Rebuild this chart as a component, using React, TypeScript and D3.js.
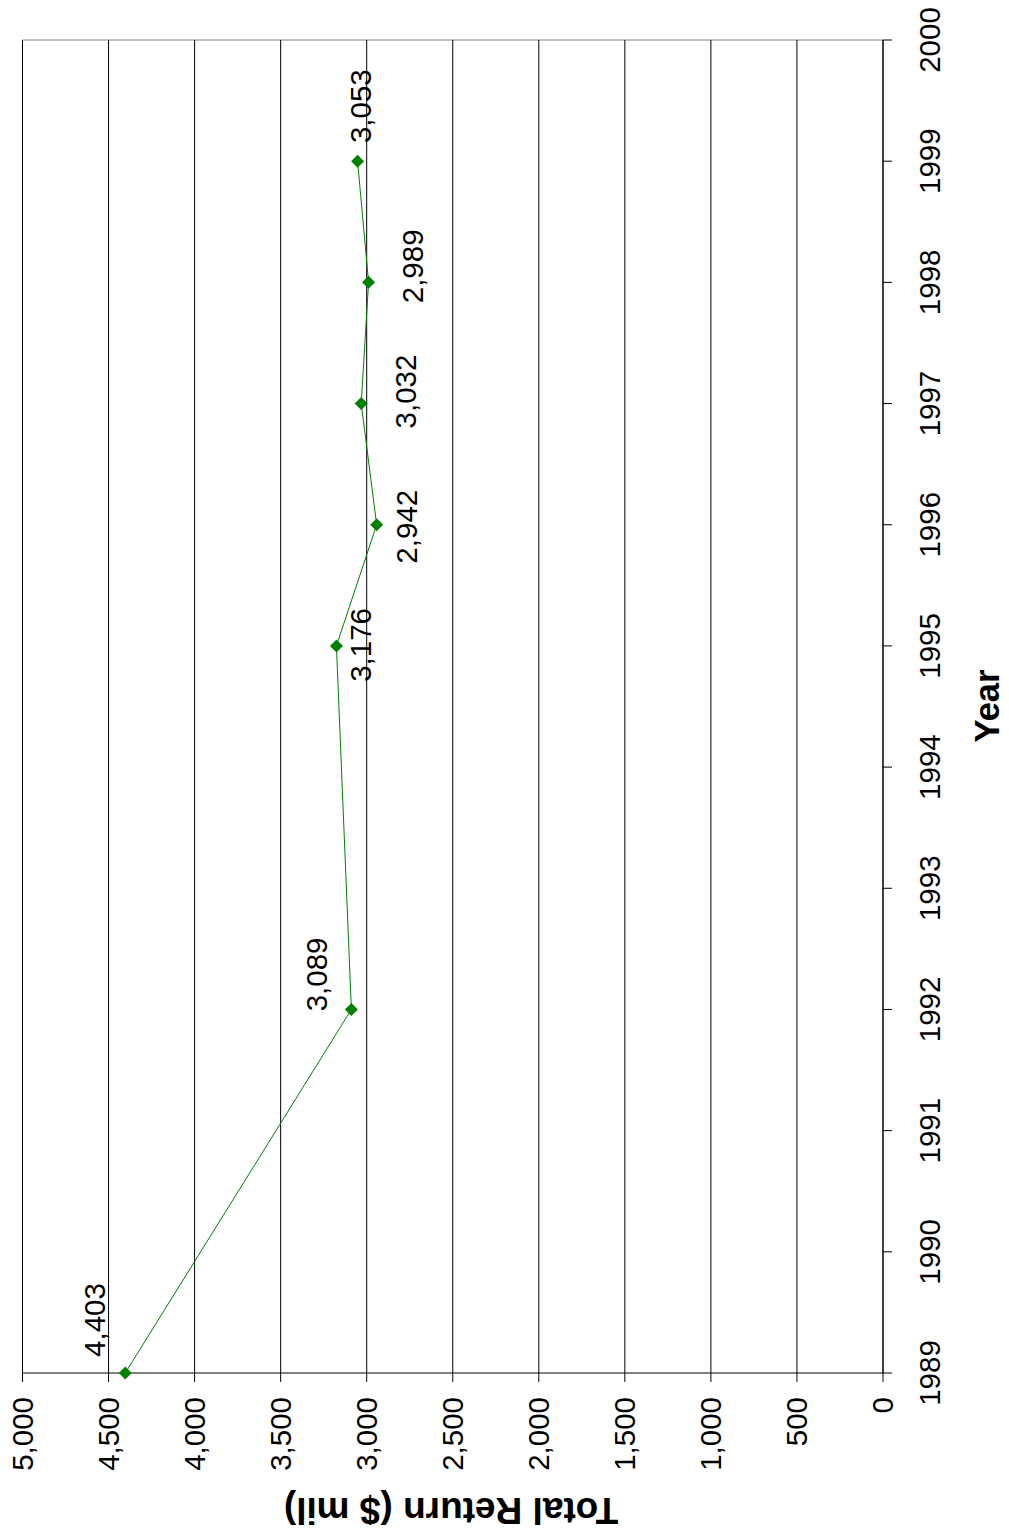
import React from "react";
import * as d3 from "d3";

const years = [1989, 1992, 1995, 1996, 1997, 1998, 1999];
const totalReturn = [4403, 3089, 3176, 2942, 3032, 2989, 3053];
const valueTicks = [0, 500, 1000, 1500, 2000, 2500, 3000, 3500, 4000, 4500, 5000];
const yearTicks = [1989, 1990, 1991, 1992, 1993, 1994, 1995, 1996, 1997, 1998, 1999, 2000];
// manual label placements (page-pixel offsets from each point), as dragged in the original
const labelOffsets: [number, number][] = [
  [-31, -53],
  [-35, -35],
  [24, -1],
  [30, 2],
  [44, -12],
  [44, -16],
  [3, -55],
];

const W = 1009;
const H = 1532;
const FONT = "Arial, 'Liberation Sans', Helvetica, sans-serif";

export default function App() {
  const x = d3.scaleLinear().domain([0, 5000]).range([883, 22.5]);
  const y = d3.scaleLinear().domain([1989, 2000]).range([1373, 40]);
  const fmt = d3.format(",");
  const data = years.map((yr, i) => ({ yr, v: totalReturn[i] }));
  const line = d3
    .line<{ yr: number; v: number }>()
    .x((d) => x(d.v))
    .y((d) => y(d.yr));

  const top = y(2000);
  const bottom = y(1989);
  const left = x(5000);
  const right = x(0);

  return (
    <svg
      width={W}
      height={H}
      style={{ position: "absolute", left: 0, top: 0, background: "#fff" }}
      fontFamily={FONT}
    >
      <rect x={0} y={0} width={W} height={H} fill="#fff" />
      {/* top border */}
      <line x1={left} x2={right} y1={top} y2={top} stroke="#808080" strokeWidth={1} />
      {/* gridlines */}
      {valueTicks.map((t) => (
        <line
          key={"g" + t}
          x1={x(t)}
          x2={x(t)}
          y1={top}
          y2={bottom + 9}
          stroke="#000"
          strokeWidth={1}
        />
      ))}
      {/* axes */}
      <line x1={right} x2={right} y1={top} y2={bottom} stroke="#000" strokeWidth={1} />
      <line x1={left} x2={right} y1={bottom} y2={bottom} stroke="#000" strokeWidth={1} />
      {yearTicks.map((t) => (
        <line key={"yt" + t} x1={right} x2={right + 9} y1={y(t)} y2={y(t)} stroke="#000" strokeWidth={1} />
      ))}
      {/* value tick labels */}
      {valueTicks.map((t) => (
        <text
          key={"vl" + t}
          transform={`translate(${x(t)},${bottom + 24}) rotate(-90)`}
          textAnchor="end"
          dy="0.35em"
          fontSize={29.5}
          fill="#000"
        >
          {fmt(t)}
        </text>
      ))}
      {/* year tick labels */}
      {yearTicks.map((t) => (
        <text
          key={"yl" + t}
          transform={`translate(${930},${y(t)}) rotate(-90)`}
          textAnchor="middle"
          dy="0.35em"
          fontSize={29.5}
          fill="#000"
        >
          {t}
        </text>
      ))}
      {/* axis titles */}
      <text
        transform={`translate(${451},${1510}) rotate(180)`}
        textAnchor="middle"
        dy="0.33em"
        fontSize={37}
        fontWeight="bold"
        fill="#000"
      >
        Total Return ($ mil)
      </text>
      <text
        transform={`translate(${987},${706}) rotate(-90)`}
        textAnchor="middle"
        dy="0.35em"
        fontSize={34.5}
        fontWeight="bold"
        fill="#000"
      >
        Year
      </text>
      {/* series */}
      <path d={line(data) || ""} fill="none" stroke="#008000" strokeWidth={1} />
      {data.map((d, i) => {
        const cx = x(d.v);
        const cy = y(d.yr);
        const s = 6.5;
        return (
          <path
            key={"m" + i}
            d={`M${cx},${cy - s}L${cx + s},${cy}L${cx},${cy + s}L${cx - s},${cy}Z`}
            fill="#008000"
          />
        );
      })}
      {data.map((d, i) => {
        const cx = x(d.v) + labelOffsets[i][0];
        const cy = y(d.yr) + labelOffsets[i][1];
        return (
          <text
            key={"dl" + i}
            transform={`translate(${cx},${cy}) rotate(-90)`}
            textAnchor="middle"
            dy="0.35em"
            fontSize={29.5}
            fill="#000"
          >
            {fmt(d.v)}
          </text>
        );
      })}
    </svg>
  );
}
